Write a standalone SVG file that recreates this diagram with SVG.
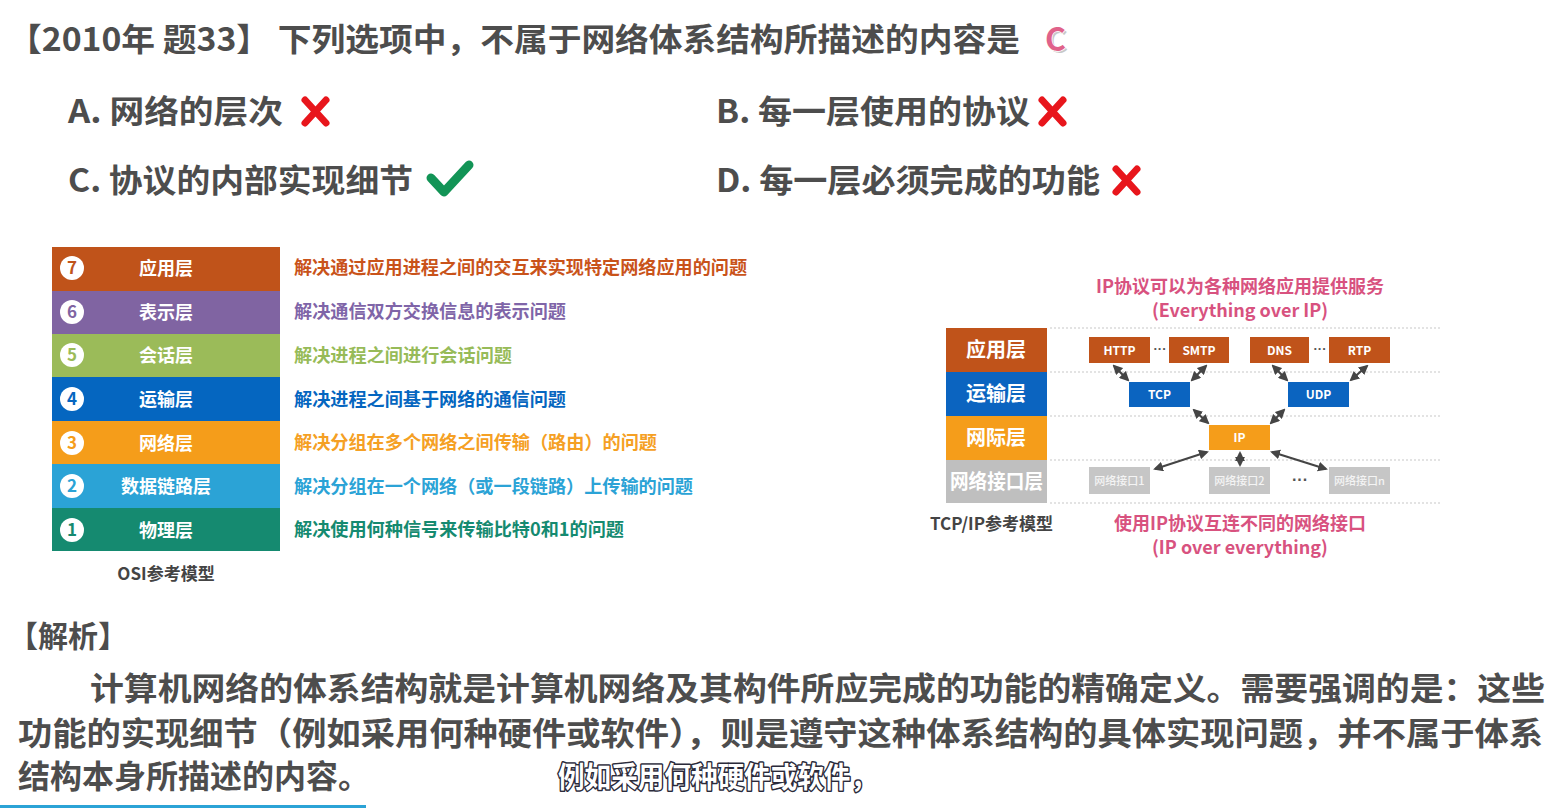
<svg xmlns="http://www.w3.org/2000/svg" width="1551" height="808" viewBox="0 0 1551 808">
<style>
text{font-family:"Noto Sans CJK SC","Noto Sans",sans-serif;font-weight:bold}
.dk{fill:#4d4d4d}
.big{font-size:32px}
.body{font-size:32px;fill:#4d4d4d}
.bar{font-size:18px;fill:#fff;text-anchor:middle}
.num{font-size:17px;text-anchor:middle}
.desc{font-size:18px}
.pink{fill:#d8527f;font-size:18px;text-anchor:middle}
.lay{font-size:20px;fill:#fff;text-anchor:middle}
.pb{fill:#fff;font-size:12px;text-anchor:middle}
.ifb{fill:#f4f4f4;font-size:11px;text-anchor:middle;font-weight:500}
.ell{font-family:"Liberation Sans",sans-serif;fill:#555;text-anchor:middle}
.dots{stroke:#c8c8c8;stroke-width:1.2;stroke-dasharray:2 2;fill:none}
.arr{stroke:#454545;stroke-width:2.2;fill:none;marker-start:url(#ah);marker-end:url(#ah)}
.xm{stroke:#e8161c;stroke-width:7;stroke-linecap:round;fill:none}
</style>
<defs>
<marker id="ah" viewBox="0 0 10 10" refX="8" refY="5" markerWidth="4.5" markerHeight="4.5" orient="auto-start-reverse"><path d="M0,0 L10,5 L0,10 z" fill="#454545"/></marker>
</defs>
<rect width="1551" height="808" fill="#fff"/>

<g id="title">
<text class="dk big" x="8" y="51" textLength="1012" lengthAdjust="spacingAndGlyphs">【2010年 题33】 下列选项中，不属于网络体系结构所描述的内容是</text>
<text x="1047" y="53" font-size="32" fill="#c8c8c8">C</text>
<text x="1045" y="51" font-size="32" fill="#e0628a" stroke="#fff" stroke-width="1.5" paint-order="stroke">C</text>
</g>

<g id="options">
<text class="dk big" x="68" y="123" textLength="215" lengthAdjust="spacingAndGlyphs">A. 网络的层次</text>
<path class="xm" d="M305,100 L326,123 M326,100 L305,123"/>
<text class="dk big" x="716" y="123" textLength="314" lengthAdjust="spacingAndGlyphs">B. 每一层使用的协议</text>
<path class="xm" d="M1042,100 L1063,123 M1063,100 L1042,123"/>
<text class="dk big" x="68" y="192" textLength="345" lengthAdjust="spacingAndGlyphs">C. 协议的内部实现细节</text>
<path d="M431,178 L444,192 L469,165" stroke="#129456" stroke-width="9" stroke-linecap="round" stroke-linejoin="round" fill="none"/>
<text class="dk big" x="716" y="192" textLength="384" lengthAdjust="spacingAndGlyphs">D. 每一层必须完成的功能</text>
<path class="xm" d="M1116,169 L1137,192 M1137,169 L1116,192"/>
</g>

<g id="osi">
<rect x="52" y="247" width="228" height="44" fill="#c0531a"/>
<rect x="52" y="291" width="228" height="43" fill="#8064a2"/>
<rect x="52" y="334" width="228" height="43" fill="#9bbb59"/>
<rect x="52" y="377" width="228" height="44" fill="#0566c0"/>
<rect x="52" y="421" width="228" height="43" fill="#f59d1a"/>
<rect x="52" y="464" width="228" height="44" fill="#2ba3d6"/>
<rect x="52" y="508" width="228" height="43" fill="#158a70"/>
<g fill="#fff">
<circle cx="72" cy="268" r="12"/><circle cx="72" cy="312" r="12"/><circle cx="72" cy="355" r="12"/><circle cx="72" cy="399" r="12"/><circle cx="72" cy="443" r="12"/><circle cx="72" cy="486" r="12"/><circle cx="72" cy="530" r="12"/>
</g>
<text class="num" x="72" y="274" fill="#c0531a">7</text>
<text class="num" x="72" y="318" fill="#8064a2">6</text>
<text class="num" x="72" y="361" fill="#9bbb59">5</text>
<text class="num" x="72" y="405" fill="#0566c0">4</text>
<text class="num" x="72" y="449" fill="#f59d1a">3</text>
<text class="num" x="72" y="492" fill="#2ba3d6">2</text>
<text class="num" x="72" y="536" fill="#158a70">1</text>
<text class="bar" x="166" y="275">应用层</text>
<text class="bar" x="166" y="319">表示层</text>
<text class="bar" x="166" y="362">会话层</text>
<text class="bar" x="166" y="406">运输层</text>
<text class="bar" x="166" y="450">网络层</text>
<text class="bar" x="166" y="493">数据链路层</text>
<text class="bar" x="166" y="537">物理层</text>
<text class="desc" x="294" y="274" fill="#c9531a" textLength="453" lengthAdjust="spacingAndGlyphs">解决通过应用进程之间的交互来实现特定网络应用的问题</text>
<text class="desc" x="294" y="318" fill="#7f65a8" textLength="272" lengthAdjust="spacingAndGlyphs">解决通信双方交换信息的表示问题</text>
<text class="desc" x="294" y="362" fill="#97bb58" textLength="218" lengthAdjust="spacingAndGlyphs">解决进程之间进行会话问题</text>
<text class="desc" x="294" y="406" fill="#0566c0" textLength="272" lengthAdjust="spacingAndGlyphs">解决进程之间基于网络的通信问题</text>
<text class="desc" x="294" y="449" fill="#f5a024" textLength="363" lengthAdjust="spacingAndGlyphs">解决分组在多个网络之间传输（路由）的问题</text>
<text class="desc" x="294" y="493" fill="#2ba3d6" textLength="399" lengthAdjust="spacingAndGlyphs">解决分组在一个网络（或一段链路）上传输的问题</text>
<text class="desc" x="294" y="536" fill="#158a70" textLength="330" lengthAdjust="spacingAndGlyphs">解决使用何种信号来传输比特0和1的问题</text>
<text x="166" y="580" font-size="17" fill="#444" text-anchor="middle">OSI参考模型</text>
</g>

<g id="tcpip">
<text class="pink" x="1240" y="293">IP协议可以为各种网络应用提供服务</text>
<text class="pink" x="1240" y="317" font-weight="600">(Everything over IP)</text>
<rect x="946" y="328" width="101" height="44" fill="#c0531a"/>
<rect x="946" y="372" width="101" height="44" fill="#0b64c0"/>
<rect x="946" y="416" width="101" height="44" fill="#f59d1a"/>
<rect x="946" y="460" width="101" height="43" fill="#bfbfbf"/>
<text class="lay" x="996" y="357">应用层</text>
<text class="lay" x="996" y="401">运输层</text>
<text class="lay" x="996" y="445">网际层</text>
<text class="lay" x="996.5" y="489" textLength="93" lengthAdjust="spacingAndGlyphs">网络接口层</text>
<path class="dots" d="M1050,328 H1440 M1050,372 H1440 M1050,416 H1440 M1050,460 H1440 M1050,503 H1440"/>
<g id="n-http"><rect x="1089" y="337" width="61" height="26" fill="#c0531a"/><text class="pb" x="1119.5" y="355">HTTP</text></g>
<g id="n-smtp"><rect x="1169" y="337" width="60" height="26" fill="#c0531a"/><text class="pb" x="1199" y="355">SMTP</text></g>
<g id="n-dns"><rect x="1250" y="337" width="59" height="26" fill="#c0531a"/><text class="pb" x="1279.5" y="355">DNS</text></g>
<g id="n-rtp"><rect x="1329" y="337" width="61" height="26" fill="#c0531a"/><text class="pb" x="1359.5" y="355">RTP</text></g>
<text class="ell" x="1160" y="353" font-size="13">···</text>
<text class="ell" x="1320" y="353" font-size="13">···</text>
<g id="n-tcp"><rect x="1129" y="382" width="61" height="25" fill="#0b64c0"/><text class="pb" x="1159.5" y="399">TCP</text></g>
<g id="n-udp"><rect x="1288" y="382" width="61" height="25" fill="#0b64c0"/><text class="pb" x="1318.5" y="399">UDP</text></g>
<g id="n-ip"><rect x="1209" y="425" width="61" height="25" fill="#f59d1a"/><text class="pb" x="1239.5" y="442" font-size="11">IP</text></g>
<g id="n-if1"><rect x="1089" y="467" width="61" height="27" fill="#c6c6c6"/><text class="ifb" x="1119.5" y="485">网络接口1</text></g>
<g id="n-if2"><rect x="1209" y="467" width="61" height="27" fill="#c6c6c6"/><text class="ifb" x="1239.5" y="485">网络接口2</text></g>
<g id="n-ifn"><rect x="1329" y="467" width="61" height="27" fill="#c6c6c6"/><text class="ifb" x="1359.5" y="485">网络接口n</text></g>
<text class="ell" x="1300" y="485" font-size="16" font-weight="bold">···</text>
<text x="930" y="530" font-size="17" fill="#444">TCP/IP参考模型</text>
<text class="pink" x="1240" y="530">使用IP协议互连不同的网络接口</text>
<text class="pink" x="1240" y="554" font-weight="600">(IP over everything)</text>
</g>

<g id="connectors">
<path class="arr" d="M1114,366 L1128,380"/>
<path class="arr" d="M1206,366 L1192,380"/>
<path class="arr" d="M1273,366 L1287,380"/>
<path class="arr" d="M1367,366 L1351,380"/>
<path class="arr" d="M1194,410 L1208,423"/>
<path class="arr" d="M1284,410 L1271,423"/>
<path class="arr" d="M1207,452 L1155,469"/>
<path class="arr" d="M1240,453 L1240,465"/>
<path class="arr" d="M1272,452 L1326,469"/>
</g>

<g id="analysis">
<text class="dk" x="8" y="647" font-size="30" font-weight="500">【解析】</text>
<text class="body" x="90" y="700" textLength="1455" lengthAdjust="spacingAndGlyphs">计算机网络的体系结构就是计算机网络及其构件所应完成的功能的精确定义。需要强调的是：这些</text>
<text class="body" x="18" y="745" textLength="1525" lengthAdjust="spacingAndGlyphs">功能的实现细节（例如采用何种硬件或软件），则是遵守这种体系结构的具体实现问题，并不属于体系</text>
<text class="body" x="18" y="788">结构本身所描述的内容。</text>
<text x="558" y="788" font-size="29" font-weight="500" fill="#fff" stroke="#2a2a3a" stroke-width="3" paint-order="stroke" stroke-linejoin="round" textLength="319" lengthAdjust="spacingAndGlyphs">例如采用何种硬件或软件，</text>
<rect x="0" y="805" width="366" height="3" fill="#2ba3d6"/>
</g>
</svg>
